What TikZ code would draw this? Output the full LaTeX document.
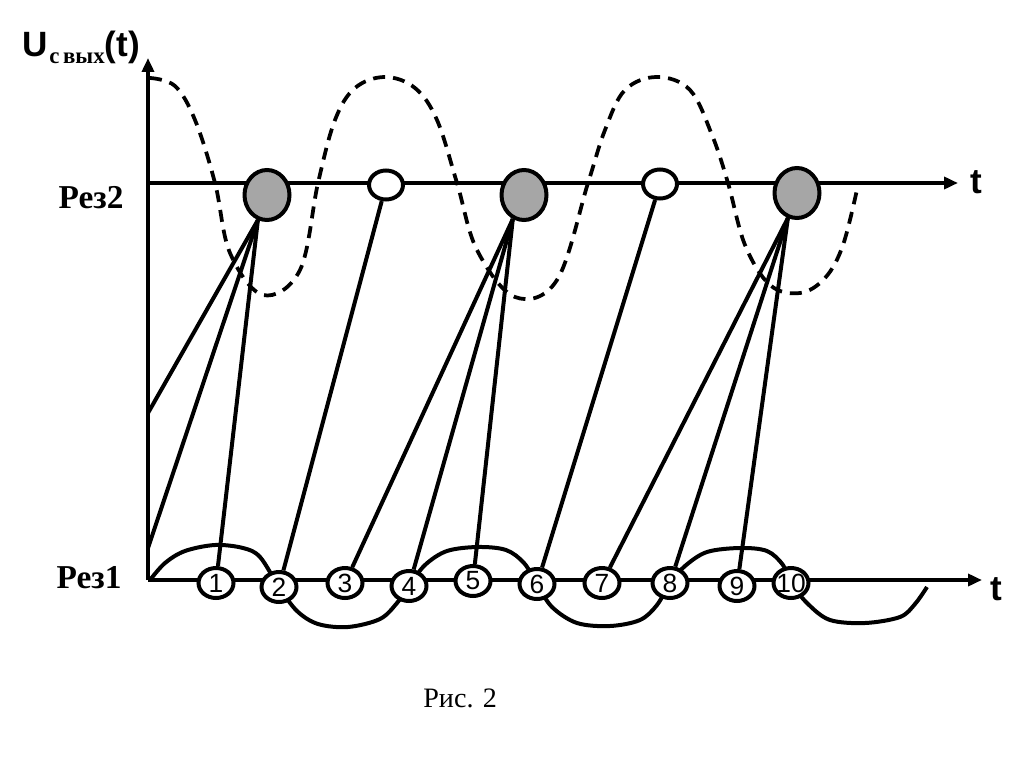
\documentclass[tikz,border=0pt]{standalone}
\usepackage{fontspec}
\setmainfont{Liberation Serif}
\newfontfamily\arialfont{Liberation Sans}
\usepackage{tikz}
\usetikzlibrary{arrows.meta,shapes.geometric}

\definecolor{hitgray}{RGB}{166,166,166}

\begin{document}
\begin{tikzpicture}[x=0.02cm, y=-0.02cm,
  axis/.style={line width=0.08cm, -{Triangle[length=0.28cm,width=0.24cm]}},
  wire/.style={line width=0.08cm},
  wave/.style={line width=0.08cm, line join=round},
  field/.style={line width=0.075cm, dash pattern=on 0.24cm off 0.16cm},
  hit/.style={ellipse, draw, line width=0.08cm, fill=hitgray, minimum width=0.9cm, minimum height=1.0cm, inner sep=0pt},
  miss/.style={ellipse, draw, line width=0.08cm, fill=white, minimum width=0.68cm, minimum height=0.58cm, inner sep=0pt},
  num/.style={ellipse, draw, line width=0.08cm, fill=white, minimum width=0.7cm, minimum height=0.6cm, inner sep=0pt, font=\arialfont\fontsize{15}{15}\selectfont},
]
  \useasboundingbox (0,0) rectangle (1024,767);
  % axes (pixel coordinates, y downwards)
  \coordinate (O) at (148,580);
  \coordinate (ytop) at (148,58);
  \coordinate (r2) at (148,183);
  \coordinate (r2end) at (958,183);
  \coordinate (r1end) at (982,580);
  \draw[axis] (O) -- (ytop);
  \draw[axis] (r2) -- (r2end);
  \draw[axis] (O) -- (r1end);
  % output voltage, dashed
  \draw[field] plot[smooth, tension=0.6] coordinates {(150,78) (175,86) (195,120) (215,183) (230,253) (263,295) (300,270) (318,183) (335,120) (355,88) (385,77) (415,88) (437,120) (457,183) (477,250) (515,297) (557,280) (588,183) (605,130) (625,90) (657,77) (690,90) (712,135) (728,183) (745,245) (770,285) (800,293) (825,278) (843,245) (858,185)};
  % input signal at Rez1
  \draw[wave] plot[smooth, tension=0.55] coordinates {(150,580) (165,563) (185,551) (215,545) (243,548) (260,557) (279,587) (297,611) (318,624) (348,627) (380,619) (397,603) (409,586) (425,565) (447,551) (478,547) (506,550) (524,563) (537,584) (552,607) (577,623) (610,626) (640,620) (657,605) (670,583) (685,566) (707,552) (740,548) (767,551) (783,565) (791,583) (808,604) (830,620) (865,623) (900,617) (915,604) (927,587)};
  % resonator 2 responses
  \node[hit] (g1) at (267,195) {};
  \node[miss] (o1) at (386,185) {};
  \node[hit] (g2) at (524,195) {};
  \node[miss] (o2) at (660,184) {};
  \node[hit] (g3) at (797,193) {};
  % resonator 1 pulses
  \foreach \n/\x/\y in {1/216/583, 2/279/587, 3/345/583, 4/409/586, 5/473/581,
                        6/537/584, 7/602/583, 8/670/583, 9/737/586, 10/791/583}
    \node[num] (c\n) at (\x,\y) {\makebox[0pt]{\n}};
  % transfer lines
  \coordinate (a1) at (148,413);
  \coordinate (a2) at (148,548);
  \draw[wire] (a1) -- (g1.250);
  \draw[wire] (a2) -- (g1.250);
  \draw[wire] (c1) -- (g1.250);
  \draw[wire] (c2) -- (o1);
  \draw[wire] (c3) -- (g2.245);
  \draw[wire] (c4) -- (g2.245);
  \draw[wire] (c5) -- (g2.245);
  \draw[wire] (c6) -- (o2);
  \draw[wire] (c7) -- (g3.250);
  \draw[wire] (c8) -- (g3.250);
  \draw[wire] (c9) -- (g3.250);
  % labels
  \node[anchor=base west, inner sep=0pt] (ulab) at (22,57)
    {\arialfont\bfseries\fontsize{20}{20}\selectfont U\kern1pt\raisebox{-0.13cm}{\rmfamily\bfseries\fontsize{13}{13}\selectfont с\kern2pt вых}(t)};
  \node[font=\bfseries\fontsize{19}{19}\selectfont] (rez2) at (91,198) {Рез2};
  \node[font=\bfseries\fontsize{19}{19}\selectfont] (rez1) at (89,578) {Рез1};
  \node[anchor=base west, inner sep=0pt, font=\arialfont\bfseries\fontsize{20}{20}\selectfont] (t2) at (970,193) {t};
  \node[anchor=base west, inner sep=0pt, font=\arialfont\bfseries\fontsize{20}{20}\selectfont] (t1) at (990,600) {t};
  \node[anchor=base west, inner sep=0pt, font=\fontsize{16}{16}\selectfont] (cap) at (423,707) {Рис. 2};
\end{tikzpicture}
\end{document}
